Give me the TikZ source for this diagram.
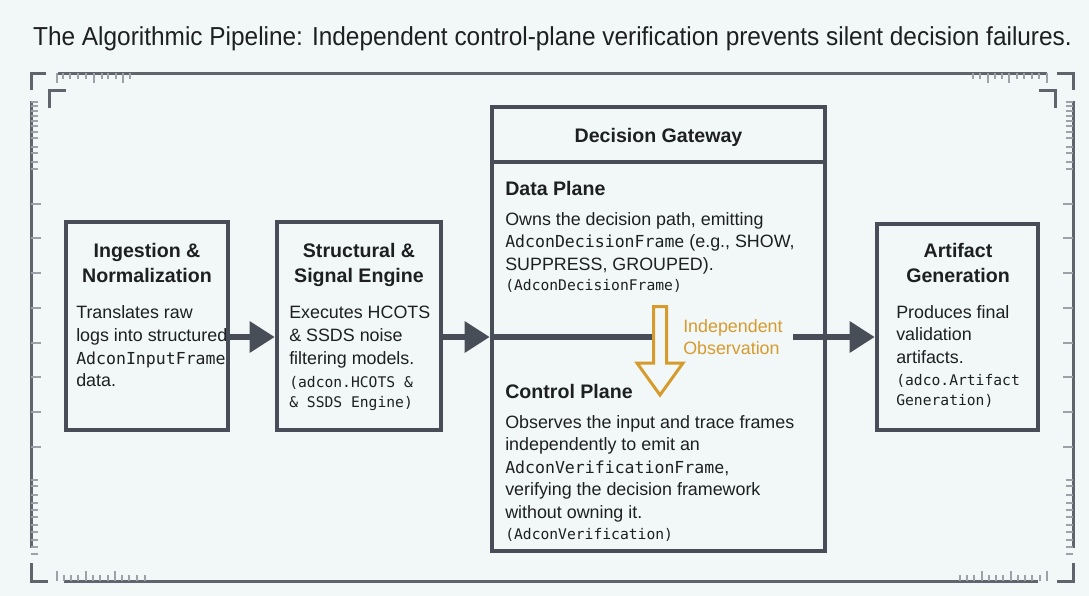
\documentclass[tikz,border=0pt]{standalone}
\usepackage{graphicx}
\usepackage{fontspec}
\setmainfont{Liberation Sans}
\setmonofont{DejaVu Sans Mono}
\usetikzlibrary{arrows.meta}

\definecolor{bgcol}{HTML}{F2F7F8}
\definecolor{edgecol}{HTML}{474E57}
\definecolor{inkcol}{HTML}{1E1F21}
\definecolor{obscol}{HTML}{D69B2D}
\definecolor{framecol}{HTML}{5F656C}
\definecolor{tickcol}{HTML}{9CA2A8}

\newcommand\codefont{\fontsize{12.4pt}{15pt}\selectfont\ttfamily}

\begin{document}
\begin{tikzpicture}[x=0.75pt, y=-0.75pt,
  stage/.style={draw=edgecol, line width=3.4pt, fill=bgcol, inner sep=0pt},
  head/.style={anchor=base, inner sep=0pt, text=inkcol, font=\fontsize{14.7pt}{17pt}\selectfont\bfseries},
  body/.style={anchor=base west, inner sep=0pt, text=inkcol, font=\fontsize{13.4pt}{16pt}\selectfont},
  code/.style={body, font=\codefont},
  ref/.style={body, font=\fontsize{11pt}{13pt}\selectfont\ttfamily},
  obstext/.style={body, text=obscol},
  flow/.style={draw=edgecol, line width=4.5pt, -{Triangle[length=18.75pt, width=22.5pt]}},
  lane/.style={draw=edgecol, line width=4.5pt},
  rule/.style={draw=framecol, line width=2.25pt},
  tick/.style={draw=tickcol, line width=1pt}]

\fill[bgcol] (0,0) rectangle (1089,596);
\useasboundingbox (0,0) rectangle (1089,596);

\node[anchor=base, text=inkcol, font=\fontsize{19.5pt}{22pt}\selectfont] (title) at (552.5,45)
  {\resizebox{779pt}{\height}{The Algorithmic Pipeline: Independent control-plane verification prevents silent decision failures.}};

% frame
\draw[rule] (31,90) -- (31,73) -- (46,73);
\draw[rule] (49,108) -- (49,90) -- (66,90);
\draw[rule] (58,73) -- (1047,73);
\draw[rule] (1057,73) -- (1073,73) -- (1073,90);
\draw[rule] (1039,90) -- (1055,90) -- (1055,108);
\draw[rule] (31,101) -- (31,548);
\draw[rule] (1073,101) -- (1073,548);
\draw[rule] (31,563) -- (31,581) -- (48,581);
\draw[rule] (64,581) -- (1038,581);
\draw[rule] (1073,563) -- (1073,581) -- (1057,581);

\foreach \x in {63,70,78,86,102,108,116,130} \draw[tick] (\x,73) -- (\x,79);
\foreach \x in {57,94,123} \draw[tick] (\x,73) -- (\x,83);
\foreach \x in {973,980,995,1002,1017,1024,1032,1039} \draw[tick] (\x,73) -- (\x,79);
\foreach \x in {988,1009,1047} \draw[tick] (\x,73) -- (\x,83);
\foreach \y in {102,106,111,116,121,126,132,138,147,153,162,169,480,486,495,503,510,517,525,532,540,547,554} {
  \draw[tick] (31,\y) -- (38,\y);
  \draw[tick] (1073,\y) -- (1066,\y);
}
\foreach \y in {204,238,273,308,343,377,412,447} {
  \draw[tick] (31,\y) -- (41,\y);
  \draw[tick] (1073,\y) -- (1063,\y);
}
\foreach \x in {64,71,78,93,100,108,122,129,137,145,960,967,974,989,996,1003,1018,1025,1032,1040} \draw[tick] (\x,581) -- (\x,575);
\foreach \x in {57,86,115,982,1011,1047} \draw[tick] (\x,581) -- (\x,571);

% stages
\node[stage, minimum width=121.5pt, minimum height=156pt] (ingest) at (147,326) {};
\node[stage, minimum width=123pt, minimum height=156pt] (signal) at (359,326) {};
\node[stage, minimum width=249.75pt, minimum height=333pt] (gate) at (658.5,329) {};
\node[stage, minimum width=120.75pt, minimum height=154.5pt] (artifact) at (957.5,327) {};

\coordinate (lane) at (0,337);
\coordinate (gatesep) at (0,162);
\coordinate (obs) at (660,305);

\node[head] (ingest1) at (147,257) {Ingestion \&};
\node[head] (ingest2) at (147,282) {Normalization};
\node[body] (ingest3) at (76,318) {Translates raw};
\node[body] (ingest4) at (76,341) {logs into structured};
\node[code] (ingest5) at (76,364) {AdconInputFrame};
\node[body] (ingest6) at (76,386) {data.};

\node[head] (signal1) at (359,257) {Structural \&};
\node[head] (signal2) at (359,282) {Signal Engine};
\node[body] (signal3) at (289,318) {Executes HCOTS};
\node[body] (signal4) at (289,341) {\& SSDS noise};
\node[body] (signal5) at (289,364) {filtering models.};
\node[ref] (signal6) at (289,387) {(adcon.HCOTS \&};
\node[ref] (signal7) at (289,407) {\& SSDS Engine)};

\draw[draw=edgecol, line width=3.4pt] (gate.west |- gatesep) -- (gate.east |- gatesep);
\node[head] (gatetitle) at (658.5,142) {Decision Gateway};
\node[head, anchor=base west] (data1) at (505,195) {Data Plane};
\node[body] (data2) at (505,225) {Owns the decision path, emitting};
\node[body] (data3) at (505,247) {{\codefont AdconDecisionFrame} (e.g., SHOW,};
\node[body] (data4) at (505,270) {SUPPRESS, GROUPED).};
\node[ref] (data5) at (505,290) {(AdconDecisionFrame)};

\node[head, anchor=base west] (ctrl1) at (505,398) {Control Plane};
\node[body] (ctrl2) at (505,428) {Observes the input and trace frames};
\node[body] (ctrl3) at (505,450) {independently to emit an};
\node[body] (ctrl4) at (505,473) {{\codefont AdconVerificationFrame},};
\node[body] (ctrl5) at (505,495) {verifying the decision framework};
\node[body] (ctrl6) at (505,518) {without owning it.};
\node[ref] (ctrl7) at (505,539) {(AdconVerification)};

\node[head] (artifact1) at (958,257) {Artifact};
\node[head] (artifact2) at (958,282) {Generation};
\node[body] (artifact3) at (896,318) {Produces final};
\node[body] (artifact4) at (896,340) {validation};
\node[body] (artifact5) at (896,363) {artifacts.};
\node[ref] (artifact6) at (896,385) {(adco.Artifact};
\node[ref] (artifact7) at (896,405) {Generation)};

\node[obstext] (obs1) at (683,332) {Independent};
\node[obstext] (obs2) at (683,354) {Observation};

% flow
\draw[flow] (ingest.east |- lane) -- (signal.west |- lane);
\draw[flow] (signal.east |- lane) -- (gate.west |- lane);
\draw[lane] (gate.west |- lane) -- (obs |- lane);
\draw[flow] ([xshift=7.5pt]obs1.east |- lane) -- (artifact.west |- lane);

\draw[draw=obscol, line width=2.25pt, fill=bgcol, line join=miter]
  (653.5,306.5) -- (653.5,363) -- (637,363) -- (660,395) -- (683,363) -- (666.5,363) -- (666.5,306.5) -- cycle;
\end{tikzpicture}
\end{document}
